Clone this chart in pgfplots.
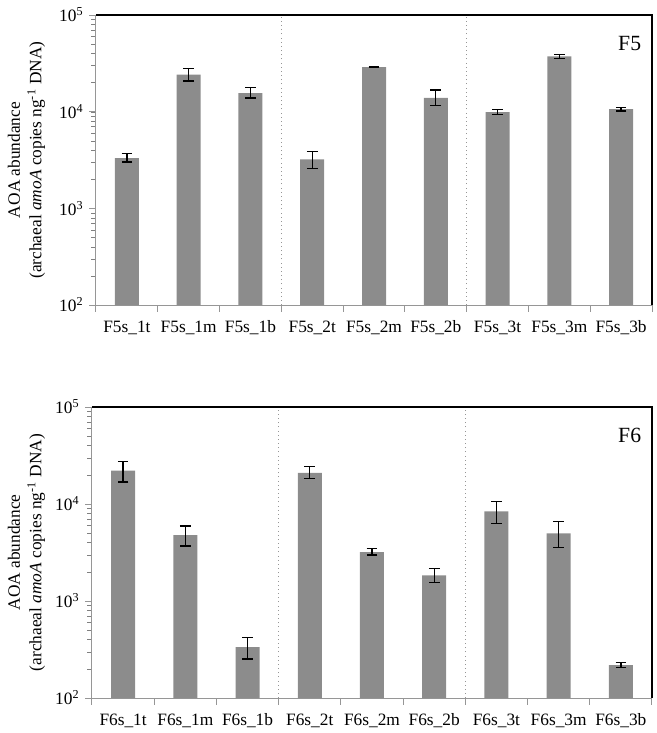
\documentclass[border=0pt]{standalone}
\usepackage{fontspec}
\setmainfont{Liberation Serif}
\usepackage{pgfplots}
\pgfplotsset{compat=1.18}
\usepackage{pgfplotstable}
\definecolor{barg}{RGB}{140,140,140}
\definecolor{axg}{RGB}{150,150,150}

\pgfplotstableread{
x y ep em
0 3300 370 290
1 24100 3900 3400
2 15600 2100 1800
3 3210 670 620
4 28900 400 400
5 13900 2800 2300
6 9900 700 500
7 37300 1900 1700
8 10600 450 400
}\Ffive

\pgfplotstableread{
x y ep em
0 22100 5300 5300
1 4780 1140 1090
2 334 87 82
3 20900 3300 2600
4 3200 260 220
5 1840 330 300
6 8380 2200 2070
7 4980 1580 1410
8 218 15 13
}\Fsix

\begin{document}
\begin{tikzpicture}
\path[use as bounding box] (0,0) rectangle (394.2pt,-439.8pt);

\begin{axis}[
  at={(57.6pt,-183pt)}, anchor=south west,
  scale only axis,
  width=333.6pt, height=174pt,
  ymode=log,
  log origin=infty,
  ymin=100, ymax=100000,
  xmin=-0.5, xmax=8.5,
  axis x line*=bottom,
  axis y line*=left,
  axis line style={axg, line width=0.6pt},
  major tick style={axg, line width=0.6pt},
  tick align=outside,
  major tick length=4pt,
  ytick={100,1000,10000,100000},
  yticklabels={10\textsuperscript{2},10\textsuperscript{3},10\textsuperscript{4},10\textsuperscript{5}},
  minor ytick={},
  xtick={-0.5,0.5,...,8.5},
  x tick label as interval,
  tick label style={font=\fontsize{10.4}{12}\selectfont, black},
  xticklabel style={yshift=-2pt},
  ylabel={AOA abundance\\(archaeal \textit{amoA} copies ng\textsuperscript{-1} DNA)},
  ylabel style={align=center, font=\fontsize{10.4}{13}\selectfont, anchor=center, at={(axis description cs:-0.125,0.5)}},
  clip=false,
  xticklabels={F5s\_1t,F5s\_1m,F5s\_1b,F5s\_2t,F5s\_2m,F5s\_2b,F5s\_3t,F5s\_3m,F5s\_3b},
]
\addplot[ybar, bar width=14.4pt, fill=barg, draw=none,
  error bars/y dir=both, error bars/y explicit,
  error bars/error bar style={black, line width=0.8pt},
  error bars/error mark options={rotate=90, black, mark size=3.2pt, line width=0.8pt}]
  table[x=x, y=y, y error plus=ep, y error minus=em] {\Ffive};
\draw[axg, dotted, line width=0.5pt] (axis cs:2.5,100) -- (axis cs:2.5,100000);
\draw[axg, dotted, line width=0.5pt] (axis cs:5.5,100) -- (axis cs:5.5,100000);
\draw[black, line width=0.7pt] (rel axis cs:0,1) -- (rel axis cs:1,1) -- (rel axis cs:1,0);
\node[anchor=north east, font=\fontsize{13}{15}\selectfont] at ([xshift=-3pt,yshift=-9pt]rel axis cs:1,1) {F5};
\end{axis}

\begin{axis}[
  at={(55.2pt,-418.8pt)}, anchor=south west,
  scale only axis,
  width=336pt, height=174.6pt,
  ymode=log,
  log origin=infty,
  ymin=100, ymax=100000,
  xmin=-0.5, xmax=8.5,
  axis x line*=bottom,
  axis y line*=left,
  axis line style={axg, line width=0.6pt},
  major tick style={axg, line width=0.6pt},
  tick align=outside,
  major tick length=4pt,
  ytick={100,1000,10000,100000},
  yticklabels={10\textsuperscript{2},10\textsuperscript{3},10\textsuperscript{4},10\textsuperscript{5}},
  minor ytick={},
  xtick={-0.5,0.5,...,8.5},
  x tick label as interval,
  tick label style={font=\fontsize{10.4}{12}\selectfont, black},
  xticklabel style={yshift=-2pt},
  ylabel={AOA abundance\\(archaeal \textit{amoA} copies ng\textsuperscript{-1} DNA)},
  ylabel style={align=center, font=\fontsize{10.4}{13}\selectfont, anchor=center, at={(axis description cs:-0.117,0.5)}},
  clip=false,
  xticklabels={F6s\_1t,F6s\_1m,F6s\_1b,F6s\_2t,F6s\_2m,F6s\_2b,F6s\_3t,F6s\_3m,F6s\_3b},
]
\addplot[ybar, bar width=14.4pt, fill=barg, draw=none,
  error bars/y dir=both, error bars/y explicit,
  error bars/error bar style={black, line width=0.8pt},
  error bars/error mark options={rotate=90, black, mark size=3.2pt, line width=0.8pt}]
  table[x=x, y=y, y error plus=ep, y error minus=em] {\Fsix};
\draw[axg, dotted, line width=0.5pt] (axis cs:2.5,100) -- (axis cs:2.5,100000);
\draw[axg, dotted, line width=0.5pt] (axis cs:5.5,100) -- (axis cs:5.5,100000);
\draw[black, line width=0.7pt] (rel axis cs:0,1) -- (rel axis cs:1,1) -- (rel axis cs:1,0);
\node[anchor=north east, font=\fontsize{13}{15}\selectfont] at ([xshift=-3pt,yshift=-9pt]rel axis cs:1,1) {F6};
\end{axis}
\end{tikzpicture}
\end{document}
